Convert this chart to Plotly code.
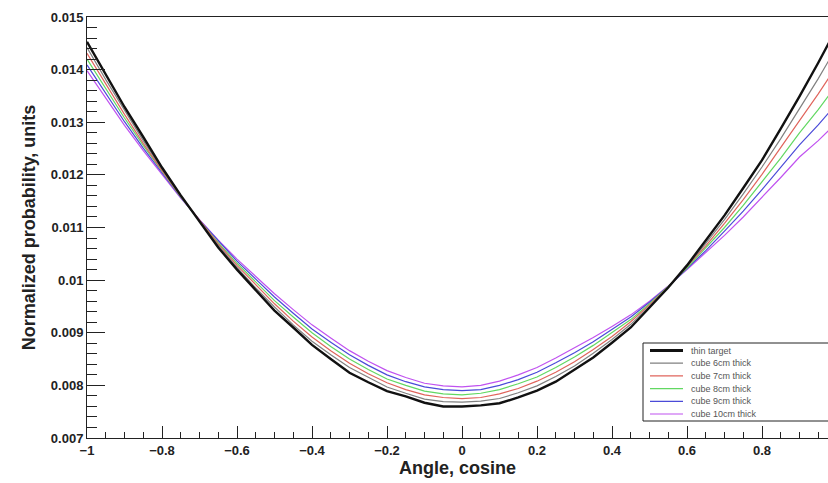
import plotly.graph_objects as go

# ---------------- data ----------------
x_vals = [-1.00, -0.95, -0.90, -0.85, -0.80, -0.75, -0.70, -0.65, -0.60, -0.55,
          -0.50, -0.45, -0.40, -0.35, -0.30, -0.25, -0.20, -0.15, -0.10, -0.05,
          0.00, 0.05, 0.10, 0.15, 0.20, 0.25, 0.30, 0.35, 0.40, 0.45,
          0.50, 0.55, 0.60, 0.65, 0.70, 0.75, 0.80, 0.85, 0.90, 0.95, 1.00]

thin_target = [0.01453, 0.01390, 0.01329, 0.01272, 0.01214, 0.01161, 0.01111, 0.01062, 0.01020, 0.00980,
               0.00942, 0.00910, 0.00877, 0.00850, 0.00824, 0.00806, 0.00789, 0.00779, 0.00767, 0.00760,
               0.00760, 0.00762, 0.00766, 0.00777, 0.00790, 0.00807, 0.00830, 0.00853, 0.00881, 0.00910,
               0.00948, 0.00986, 0.01028, 0.01076, 0.01123, 0.01175, 0.01228, 0.01288, 0.01349, 0.01413, 0.01480]
cube_6cm = [0.01442, 0.01381, 0.01323, 0.01265, 0.01211, 0.01160, 0.01112, 0.01066, 0.01024, 0.00985,
            0.00949, 0.00915, 0.00884, 0.00858, 0.00834, 0.00815, 0.00797, 0.00785, 0.00774, 0.00769,
            0.00768, 0.00770, 0.00775, 0.00786, 0.00799, 0.00817, 0.00837, 0.00861, 0.00887, 0.00916,
            0.00950, 0.00987, 0.01026, 0.01070, 0.01115, 0.01164, 0.01215, 0.01269, 0.01326, 0.01383, 0.01444]
cube_7cm = [0.01431, 0.01372, 0.01315, 0.01260, 0.01208, 0.01159, 0.01113, 0.01069, 0.01028, 0.00991,
            0.00955, 0.00922, 0.00892, 0.00866, 0.00842, 0.00822, 0.00805, 0.00792, 0.00782, 0.00777,
            0.00775, 0.00777, 0.00784, 0.00794, 0.00808, 0.00825, 0.00845, 0.00868, 0.00893, 0.00921,
            0.00953, 0.00987, 0.01025, 0.01065, 0.01108, 0.01153, 0.01201, 0.01251, 0.01303, 0.01354, 0.01408]
cube_8cm = [0.01420, 0.01363, 0.01308, 0.01256, 0.01206, 0.01158, 0.01113, 0.01071, 0.01032, 0.00996,
            0.00961, 0.00930, 0.00900, 0.00874, 0.00850, 0.00830, 0.00812, 0.00800, 0.00789, 0.00784,
            0.00782, 0.00785, 0.00792, 0.00803, 0.00816, 0.00834, 0.00854, 0.00876, 0.00900, 0.00925,
            0.00955, 0.00988, 0.01023, 0.01061, 0.01100, 0.01142, 0.01186, 0.01232, 0.01280, 0.01324, 0.01372]
cube_9cm = [0.01409, 0.01354, 0.01301, 0.01251, 0.01203, 0.01157, 0.01114, 0.01074, 0.01036, 0.01002,
            0.00968, 0.00937, 0.00907, 0.00882, 0.00858, 0.00838, 0.00820, 0.00807, 0.00797, 0.00792,
            0.00790, 0.00792, 0.00800, 0.00811, 0.00825, 0.00843, 0.00862, 0.00883, 0.00906, 0.00930,
            0.00958, 0.00988, 0.01022, 0.01056, 0.01093, 0.01131, 0.01172, 0.01214, 0.01257, 0.01295, 0.01336]
cube_10cm = [0.01398, 0.01345, 0.01294, 0.01246, 0.01200, 0.01156, 0.01115, 0.01076, 0.01040, 0.01007,
             0.00974, 0.00944, 0.00915, 0.00890, 0.00866, 0.00846, 0.00828, 0.00815, 0.00804, 0.00799,
             0.00797, 0.00800, 0.00808, 0.00820, 0.00834, 0.00852, 0.00871, 0.00891, 0.00912, 0.00934,
             0.00960, 0.00989, 0.01020, 0.01052, 0.01085, 0.01120, 0.01157, 0.01195, 0.01234, 0.01265, 0.01300]

series_names = ["thin target", "cube 6cm thick", "cube 7cm thick", "cube 8cm thick",
                "cube 9cm thick", "cube 10cm thick"]
series_values = [thin_target, cube_6cm, cube_7cm, cube_8cm, cube_9cm, cube_10cm]

x_tick_vals = [-1, -0.8, -0.6, -0.4, -0.2, 0, 0.2, 0.4, 0.6, 0.8]
x_tick_text = ["\u22121", "\u22120.8", "\u22120.6", "\u22120.4", "\u22120.2", "0", "0.2", "0.4", "0.6", "0.8"]
y_tick_vals = [0.007, 0.008, 0.009, 0.010, 0.011, 0.012, 0.013, 0.014, 0.015]
y_tick_text = ["0.007", "0.008", "0.009", "0.01", "0.011", "0.012", "0.013", "0.014", "0.015"]

# ---------------- styles ----------------
colors = ["#111111", "#808080", "#e0645c", "#62d862", "#4a4ad8", "#c052f0"]
widths = [2.4, 1.2, 1.2, 1.2, 1.2, 1.2]

W, H = 828, 483
ML, MR, MT, MB = 87, 0, 17, 45
PW, PH = W - ML - MR, H - MT - MB
PX_PER_UNIT = 375.0  # x axis spans -1..1 over 750 px; the right part is cropped

fig = go.Figure()
# draw colored series first, thin target on top
for idx in [5, 4, 3, 2, 1, 0]:
    fig.add_trace(go.Scatter(x=x_vals, y=series_values[idx], mode="lines",
                             name=series_names[idx],
                             line=dict(color=colors[idx], width=widths[idx]),
                             showlegend=False))

tick_font = dict(family="Liberation Sans, Arial, sans-serif", size=13, color="#222222", weight="bold")
title_font = dict(family="Liberation Sans, Arial, sans-serif", size=18, color="#222222", weight="bold")

fig.update_xaxes(range=[-1, -1 + PW / PX_PER_UNIT], showline=True, linecolor="#222222", linewidth=1,
                 mirror=True, showgrid=False, zeroline=False,
                 ticks="inside", ticklen=12, tickwidth=1, tickcolor="#222222",
                 tickvals=x_tick_vals, ticktext=x_tick_text, tickfont=tick_font,
                 minor=dict(ticks="inside", ticklen=6, tickwidth=1, tickcolor="#222222",
                            dtick=0.05, tick0=-1, showgrid=False),
                 title=dict(text="Angle, cosine", font=title_font, standoff=4))
fig.update_yaxes(range=[0.007, 0.015], showline=True, linecolor="#222222", linewidth=1,
                 mirror=False, showgrid=False, zeroline=False,
                 ticks="inside", ticklen=18, tickwidth=1, tickcolor="#222222",
                 tickvals=y_tick_vals, ticktext=y_tick_text, tickfont=tick_font,
                 minor=dict(ticks="inside", ticklen=10, tickwidth=1, tickcolor="#222222",
                            dtick=0.0002, tick0=0.007, showgrid=False),
                 title=dict(text="Normalized probability, units", font=title_font, standoff=10))

# ---------------- legend box (drawn manually, ROOT style) ----------------
def px_x(px):
    return (px - ML) / PW


def px_y(py):
    return (H - MB - py) / PH


shapes = [dict(type="rect", xref="paper", yref="paper",
               x0=px_x(643), x1=px_x(840), y0=px_y(421), y1=px_y(343),
               line=dict(color="#222222", width=1), fillcolor="white", layer="above")]
annotations = []
for i, name in enumerate(series_names):
    py = 350.5 + 12.7 * i
    shapes.append(dict(type="line", xref="paper", yref="paper",
                       x0=px_x(650), x1=px_x(683), y0=px_y(py), y1=px_y(py),
                       line=dict(color=colors[i], width=3 if i == 0 else 1.2), layer="above"))
    annotations.append(dict(xref="paper", yref="paper", x=px_x(689), y=px_y(py),
                            text=name, showarrow=False, xanchor="left", yanchor="middle",
                            font=dict(family="Liberation Sans, Arial, sans-serif", size=9, color="#555555")))

fig.update_layout(width=W, height=H, margin=dict(l=ML, r=MR, t=MT, b=MB),
                  plot_bgcolor="white", paper_bgcolor="white",
                  showlegend=False, shapes=shapes, annotations=annotations)

fig.write_html("out.html")
